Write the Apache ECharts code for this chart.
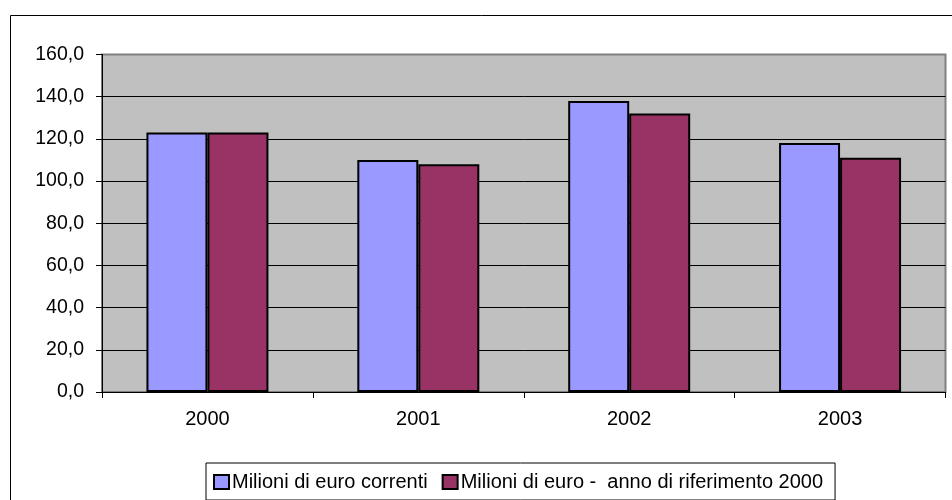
<!DOCTYPE html>
<html>
<head>
<meta charset="utf-8">
<script src="https://cdn.jsdelivr.net/npm/echarts@6/dist/echarts.min.js"></script>
<style>
html,body{margin:0;padding:0;background:#fff;}
#chart{width:952px;height:500px;}
</style>
</head>
<body>
<div id="chart"></div>
<script>
const categories = ['2000', '2001', '2002', '2003'];
const seriesCorrenti = [123, 110, 138, 118];
const seriesRiferimento = [123, 108, 132, 111];
const seriesNames = ['Milioni di euro correnti', 'Milioni di euro -  anno di riferimento 2000'];

const FONT = '"Liberation Sans", Arial, sans-serif';
const chart = echarts.init(document.getElementById('chart'), null, {renderer: 'canvas'});
const gridColors = ['#000', '#000', '#000', '#000', '#000', '#000', '#000', '#000', '#808080'];

chart.setOption({
  animation: false,
  backgroundColor: '#fff',
  graphic: [{
    type: 'rect',
    shape: {x: 10.5, y: 15.5, width: 960, height: 500},
    style: {fill: 'none', stroke: '#000', lineWidth: 1},
    z: -10
  }],
  grid: {
    left: 102, right: 6.5, top: 54.5, bottom: 108,
    show: true, backgroundColor: '#C0C0C0', borderColor: '#808080', borderWidth: 2
  },
  legend: {
    left: 206, top: 463,
    data: seriesNames,
    backgroundColor: '#fff', borderColor: '#000', borderWidth: 1,
    padding: [9, 12, 8, 7],
    itemWidth: 15, itemHeight: 14, itemGap: 14,
    textStyle: {fontFamily: FONT, fontSize: 20, color: '#000', padding: [0, 0, 0, -2]},
    icon: 'rect'
  },
  xAxis: {
    type: 'category',
    data: categories,
    axisLine: {lineStyle: {color: '#000', width: 1}},
    axisTick: {show: true, length: 6, lineStyle: {color: '#000'}},
    axisLabel: {fontFamily: FONT, fontSize: 20, color: '#000', margin: 17}
  },
  yAxis: {
    type: 'value', min: 0, max: 160, interval: 20,
    axisLine: {show: true, lineStyle: {color: '#000', width: 1}},
    axisTick: {show: true, length: 6, lineStyle: {color: '#000'}},
    axisLabel: {fontFamily: FONT, fontSize: 19.5, color: '#000', margin: 18,
      formatter: v => v.toFixed(1).replace('.', ',')},
    splitLine: {show: true, lineStyle: {color: gridColors, width: 1}}
  },
  series: [
    {
      name: seriesNames[0], type: 'bar', data: seriesCorrenti,
      barWidth: 61, barGap: '0%',
      itemStyle: {color: '#9999FF', borderColor: '#000', borderWidth: 2}
    },
    {
      name: seriesNames[1], type: 'bar', data: seriesRiferimento,
      barWidth: 61, barGap: '0%',
      itemStyle: {color: '#993366', borderColor: '#000', borderWidth: 2}
    }
  ]
});
</script>
</body>
</html>
